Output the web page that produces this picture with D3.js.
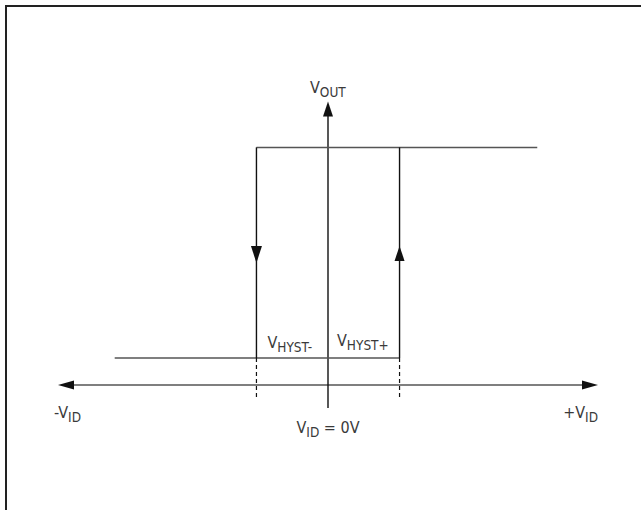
<!DOCTYPE html>
<html>
<head>
<meta charset="utf-8">
<script src="https://cdn.jsdelivr.net/npm/d3@7"></script>
<style>
  body { margin: 0; background: #fff; }
  text { font-family: "Liberation Sans Narrow", "DejaVu Sans Condensed", "Roboto Condensed", sans-serif; font-stretch: condensed; fill: #3a3a3a; }
</style>
</head>
<body>
<div id="chart"></div>
<script>
// ==== data (arbitrary units) ====
const xDomain = [-10, 10];          // -VID ... +VID
const yDomain = [0, 10];            // VOUT
const trips = [-2.65, 2.65];        // switching points (VHYST- / VHYST+ edges)
const levels = [1, 8.8];            // output low / output high
const lowSpan = [-7.9, 2.65];       // extent of low output line
const highSpan = [-2.65, 7.75];     // extent of high output line
const yAxisSpan = [-0.85, 10.5];    // vertical axis extent
const dashBottom = -0.5;            // dashed drop lines end
const arrowLevel = 5.15;            // where loop direction arrows sit
const hystLabels = ["HYST-", "HYST+"];

const W = 641, H = 510;
const svg = d3.select("#chart").append("svg")
    .attr("width", W)
    .attr("height", H);

// frame (only top and left edges visible)
svg.append("path")
    .attr("d", "M6,510 V6 H641")
    .attr("fill", "none")
    .attr("stroke", "#222")
    .attr("stroke-width", 2);

const x = d3.scaleLinear().domain(xDomain).range([58, 598]);
const y = d3.scaleLinear().domain(yDomain).range([385, 115]);

const gray = "#555", black = "#111";

// horizontal axis
svg.append("line")
    .attr("x1", x(xDomain[0]) + 10).attr("x2", x(xDomain[1]) - 10)
    .attr("y1", y(0)).attr("y2", y(0))
    .attr("stroke", gray).attr("stroke-width", 1.6);

// vertical axis
svg.append("line")
    .attr("x1", x(0)).attr("x2", x(0))
    .attr("y1", y(yAxisSpan[0])).attr("y2", y(yAxisSpan[1]) + 10)
    .attr("stroke", black).attr("stroke-width", 1.4);

// arrowheads: tip position, direction
function arrow(tx, ty, dir, len, half, col) {
    let p;
    if (dir === "left") p = [[tx, ty], [tx + len, ty - half], [tx + len, ty + half]];
    if (dir === "right") p = [[tx, ty], [tx - len, ty - half], [tx - len, ty + half]];
    if (dir === "up") p = [[tx, ty], [tx - half, ty + len], [tx + half, ty + len]];
    if (dir === "down") p = [[tx, ty], [tx - half, ty - len], [tx + half, ty - len]];
    svg.append("path")
        .attr("d", d3.line()(p) + "Z")
        .attr("fill", col);
}
arrow(x(xDomain[0]), y(0), "left", 16, 4.5, "#111");
arrow(x(xDomain[1]), y(0), "right", 16, 4.5, "#111");
arrow(x(0), y(yAxisSpan[1]), "up", 15, 5, "#111");

// output levels
svg.append("line")
    .attr("x1", x(lowSpan[0])).attr("x2", x(lowSpan[1]))
    .attr("y1", y(levels[0])).attr("y2", y(levels[0]))
    .attr("stroke", gray).attr("stroke-width", 1.5);
svg.append("line")
    .attr("x1", x(highSpan[0])).attr("x2", x(highSpan[1]))
    .attr("y1", y(levels[1])).attr("y2", y(levels[1]))
    .attr("stroke", gray).attr("stroke-width", 1.5);

// switching edges
trips.forEach(t => {
    svg.append("line")
        .attr("x1", x(t)).attr("x2", x(t))
        .attr("y1", y(levels[0])).attr("y2", y(levels[1]))
        .attr("stroke", black).attr("stroke-width", 1.4);
    svg.append("line")
        .attr("x1", x(t)).attr("x2", x(t))
        .attr("y1", y(levels[0])).attr("y2", y(dashBottom))
        .attr("stroke", black).attr("stroke-width", 1.2)
        .attr("stroke-dasharray", "4,3");
});
arrow(x(trips[0]), y(arrowLevel) + 17, "down", 17, 5.5, "#111");
arrow(x(trips[1]), y(arrowLevel), "up", 15, 5, "#111");

// labels
function label(px, py, main, sub, rest, anchor) {
    const t = svg.append("text")
        .attr("x", px).attr("y", py)
        .attr("text-anchor", anchor || "start")
        .style("font-size", "16px");
    t.append("tspan").text(main);
    t.append("tspan").attr("dy", 4).style("font-size", "13.5px").text(sub);
    if (rest) t.append("tspan").attr("dy", -4).text(rest);
    return t;
}
label(x(0) - 18, y(yAxisSpan[1]) - 9, "V", "OUT");
label(x(trips[0]) + 11, y(levels[0]) - 10, "V", hystLabels[0]);
label(x(0) + 9, y(levels[0]) - 12, "V", hystLabels[1]);
label(x(xDomain[0]) - 4, y(0) + 33, "-V", "ID");
label(x(xDomain[1]), y(0) + 33, "+V", "ID", null, "end");
label(x(0), y(0) + 48, "V", "ID", " = 0V", "middle");
</script>
</body>
</html>
